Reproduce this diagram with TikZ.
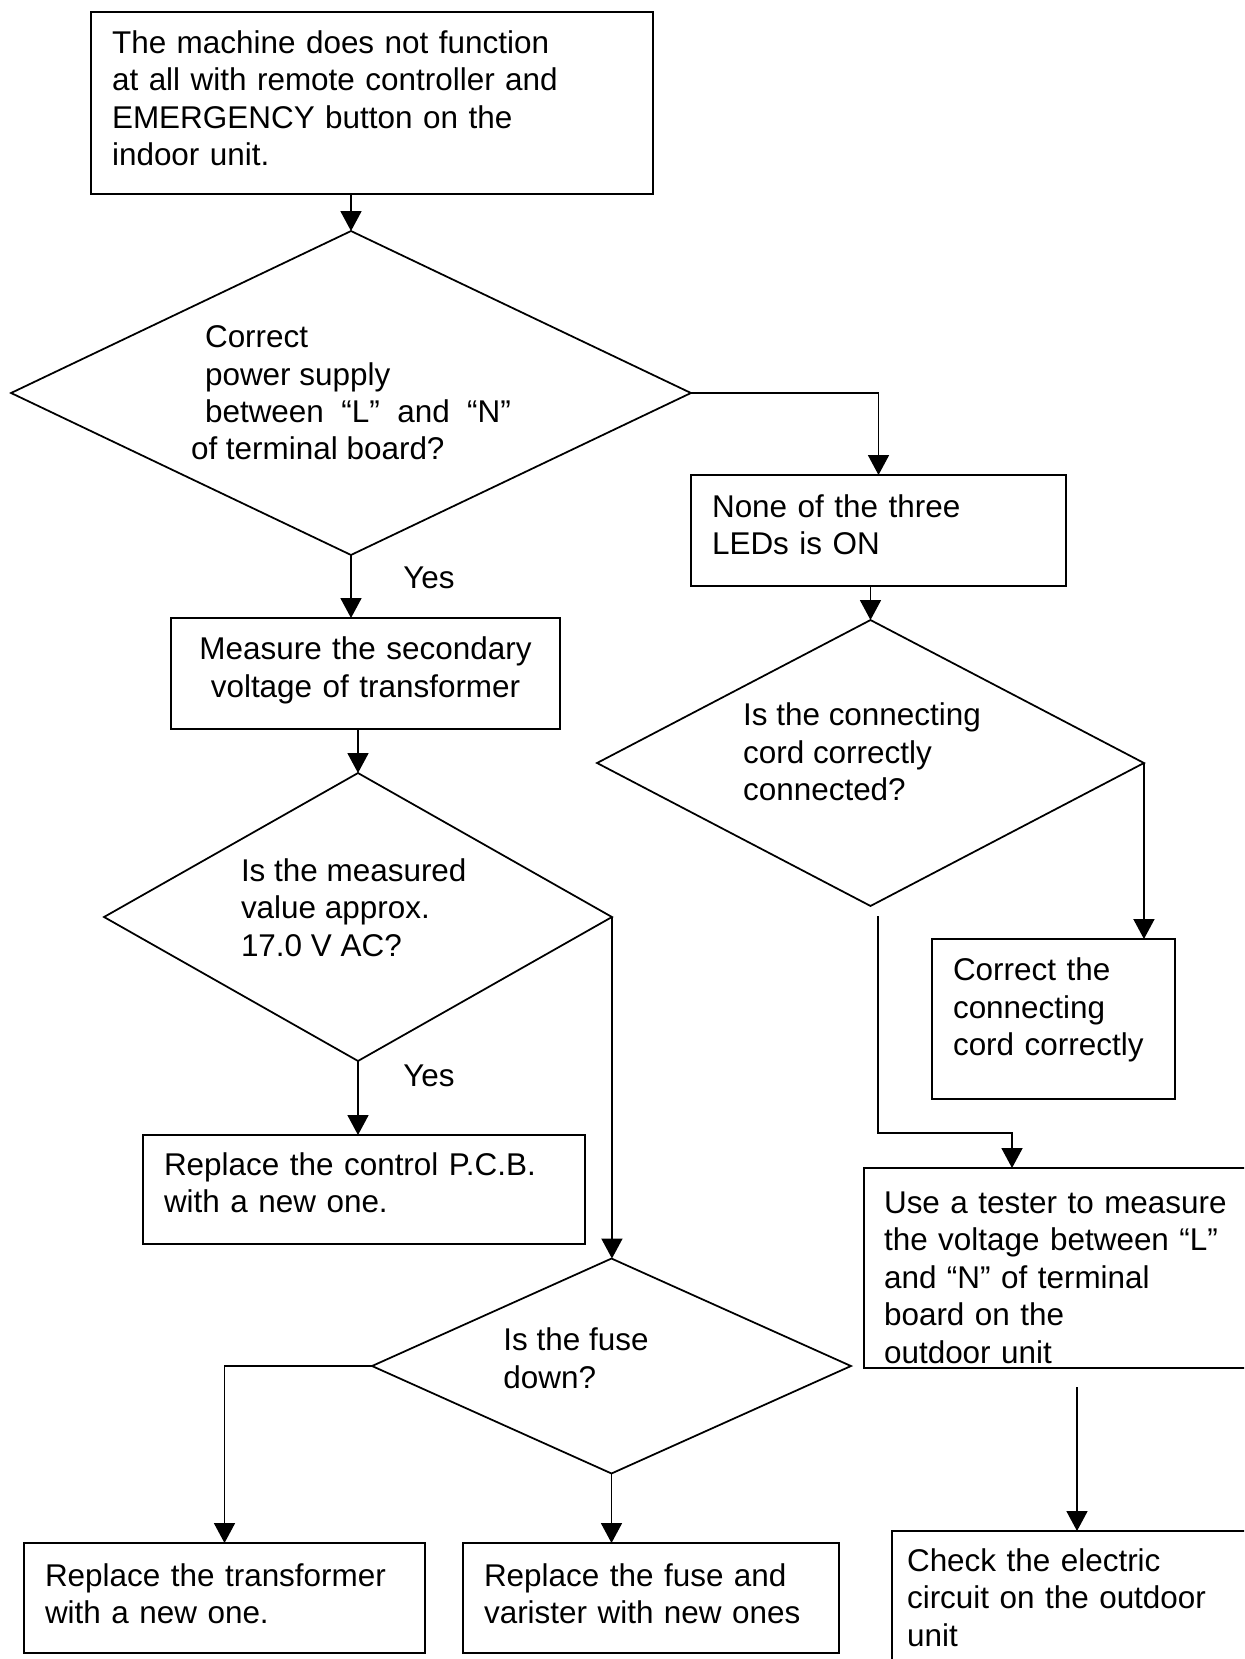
\documentclass[tikz,border=0pt]{standalone}
\usepackage{fontspec}
\setmainfont{Liberation Sans}
\usetikzlibrary{arrows.meta, shapes.geometric, calc}
\newcommand{\flowfont}{\fontsize{17.9pt}{21.3pt}\selectfont}
% invisible struts to nudge node text up (extra depth) or down (extra height)
\newcommand{\txtup}[1]{\rule[-#1]{0pt}{0pt}}
\newcommand{\txtdown}[1]{\rule{0pt}{#1}}

\begin{document}
\begin{tikzpicture}[x=0.02cm, y=-0.02cm,
    box/.style={draw, line width=1pt, inner xsep=0.42cm, inner ysep=0pt, outer sep=0pt, align=left, font=\flowfont},
    ask/.style={draw, diamond, line width=1pt, inner sep=0pt, outer sep=0pt, align=left, font=\flowfont},
    arrow/.style={-{Triangle[length=0.4cm, width=0.42cm]}, line width=1pt},
    yes/.style={anchor=west, inner sep=0pt, font=\flowfont}
  ]
  \path[use as bounding box, clip] (0,0) rectangle (1244,1659);

  % Symptom (top)
  \node[box, text width=10.40cm, minimum width=11.24cm, minimum height=3.64cm] (start) at (372,103)
    {The machine does not function\\at all with remote controller and\\EMERGENCY button on the\\indoor unit.\txtup{0.2cm}};

  % First check: supply on terminal board
  \node[ask, aspect=2.1, minimum width=13.6cm, minimum height=6.48cm] (supply) at (351,393)
    {\hspace*{0.28cm}Correct\\ \hspace*{0.28cm}power supply\\ \hspace*{0.28cm}between \ “L” \ and \ “N”\\of terminal board?};

  % Right branch
  \node[box, text width=6.66cm, minimum width=7.5cm, minimum height=2.22cm] (leds) at (878.5,530.5)
    {None of the three\\LEDs is ON\txtup{0.24cm}};
  \node[ask, aspect=1.91, minimum width=10.94cm, minimum height=5.72cm] (cord) at (870.5,763)
    {Is the connecting\hspace*{0.34cm}\\cord correctly\\connected?\txtup{0.44cm}};
  \node[box, text width=4.02cm, minimum width=4.86cm, minimum height=3.2cm] (fixcord) at (1053.5,1019)
    {Correct the\\connecting\\cord correctly\txtup{0.49cm}};
  \node[box, inner xsep=0.4cm, text width=7.2cm, minimum width=8.0cm, minimum height=4.0cm] (tester) at (1064,1268)
    {\txtdown{0.82cm}Use a tester to measure\\the voltage between “L”\\and “N” of terminal\\board on the\\outdoor unit};
  \node[box, inner xsep=0.3cm, text width=6.84cm, minimum width=7.44cm, minimum height=2.78cm] (check) at (1078,1600.5)
    {Check the electric\\circuit on the outdoor\\unit\txtup{0.12cm}};

  % Left branch
  \node[box, align=center, text width=6.94cm, minimum width=7.78cm, minimum height=2.22cm] (measure) at (365.5,673.5)
    {Measure the secondary\\voltage of transformer\txtup{0.26cm}};
  \node[ask, aspect=1.76, minimum width=10.16cm, minimum height=5.76cm] (volt) at (358,917)
    {Is the measured\hspace*{0.17cm}\\value approx.\\17.0 V AC?\txtup{0.38cm}};
  \node[box, text width=8.0cm, minimum width=8.84cm, minimum height=2.18cm] (pcb) at (364,1189.5)
    {Replace the control P.C.B.\\with a new one.\txtup{0.28cm}};
  \node[ask, aspect=2.23, minimum width=9.58cm, minimum height=4.3cm] (fusechk) at (611.5,1366)
    {Is the fuse\hspace*{1.42cm}\\down?\txtup{0.32cm}};
  \node[box, text width=7.18cm, minimum width=8.02cm, minimum height=2.2cm] (trafo) at (224.5,1598)
    {Replace the transformer\\with a new one.\txtup{0.17cm}};
  \node[box, text width=6.68cm, minimum width=7.52cm, minimum height=2.2cm] (newfuse) at (651,1598)
    {Replace the fuse and\\varister with new ones\txtup{0.17cm}};

  \node[yes] (yes1) at (403,578) {Yes};
  \node[yes] (yes2) at (403,1076) {Yes};

  % Connectors
  \draw[arrow] (start.south -| supply.north) -- (supply.north);
  \draw[arrow] (supply.east) -| (leds.north);
  \draw[arrow] (supply.south) -- (supply.south |- measure.north);
  \draw[arrow] (measure.south -| volt.north) -- (volt.north);
  \draw[arrow] (volt.south) -- (volt.south |- pcb.north);
  \draw[arrow] (volt.east) -- (volt.east |- fusechk.north);
  \draw[arrow] (cord.north |- leds.south) -- (cord.north);
  \draw[arrow] (cord.east) -- (cord.east |- fixcord.north);
  \coordinate (cordout) at (878,916);
  \draw[arrow] (cordout) -- ++(0,217) -| ([xshift=-1.04cm]tester.north);
  \coordinate (testout) at (1077,1387);
  \draw[arrow] (testout) -- (testout |- check.north);
  \draw[arrow] (fusechk.west) -| (trafo.north);
  \draw[arrow] (fusechk.south) -- (fusechk.south |- newfuse.north);
\end{tikzpicture}
\end{document}
